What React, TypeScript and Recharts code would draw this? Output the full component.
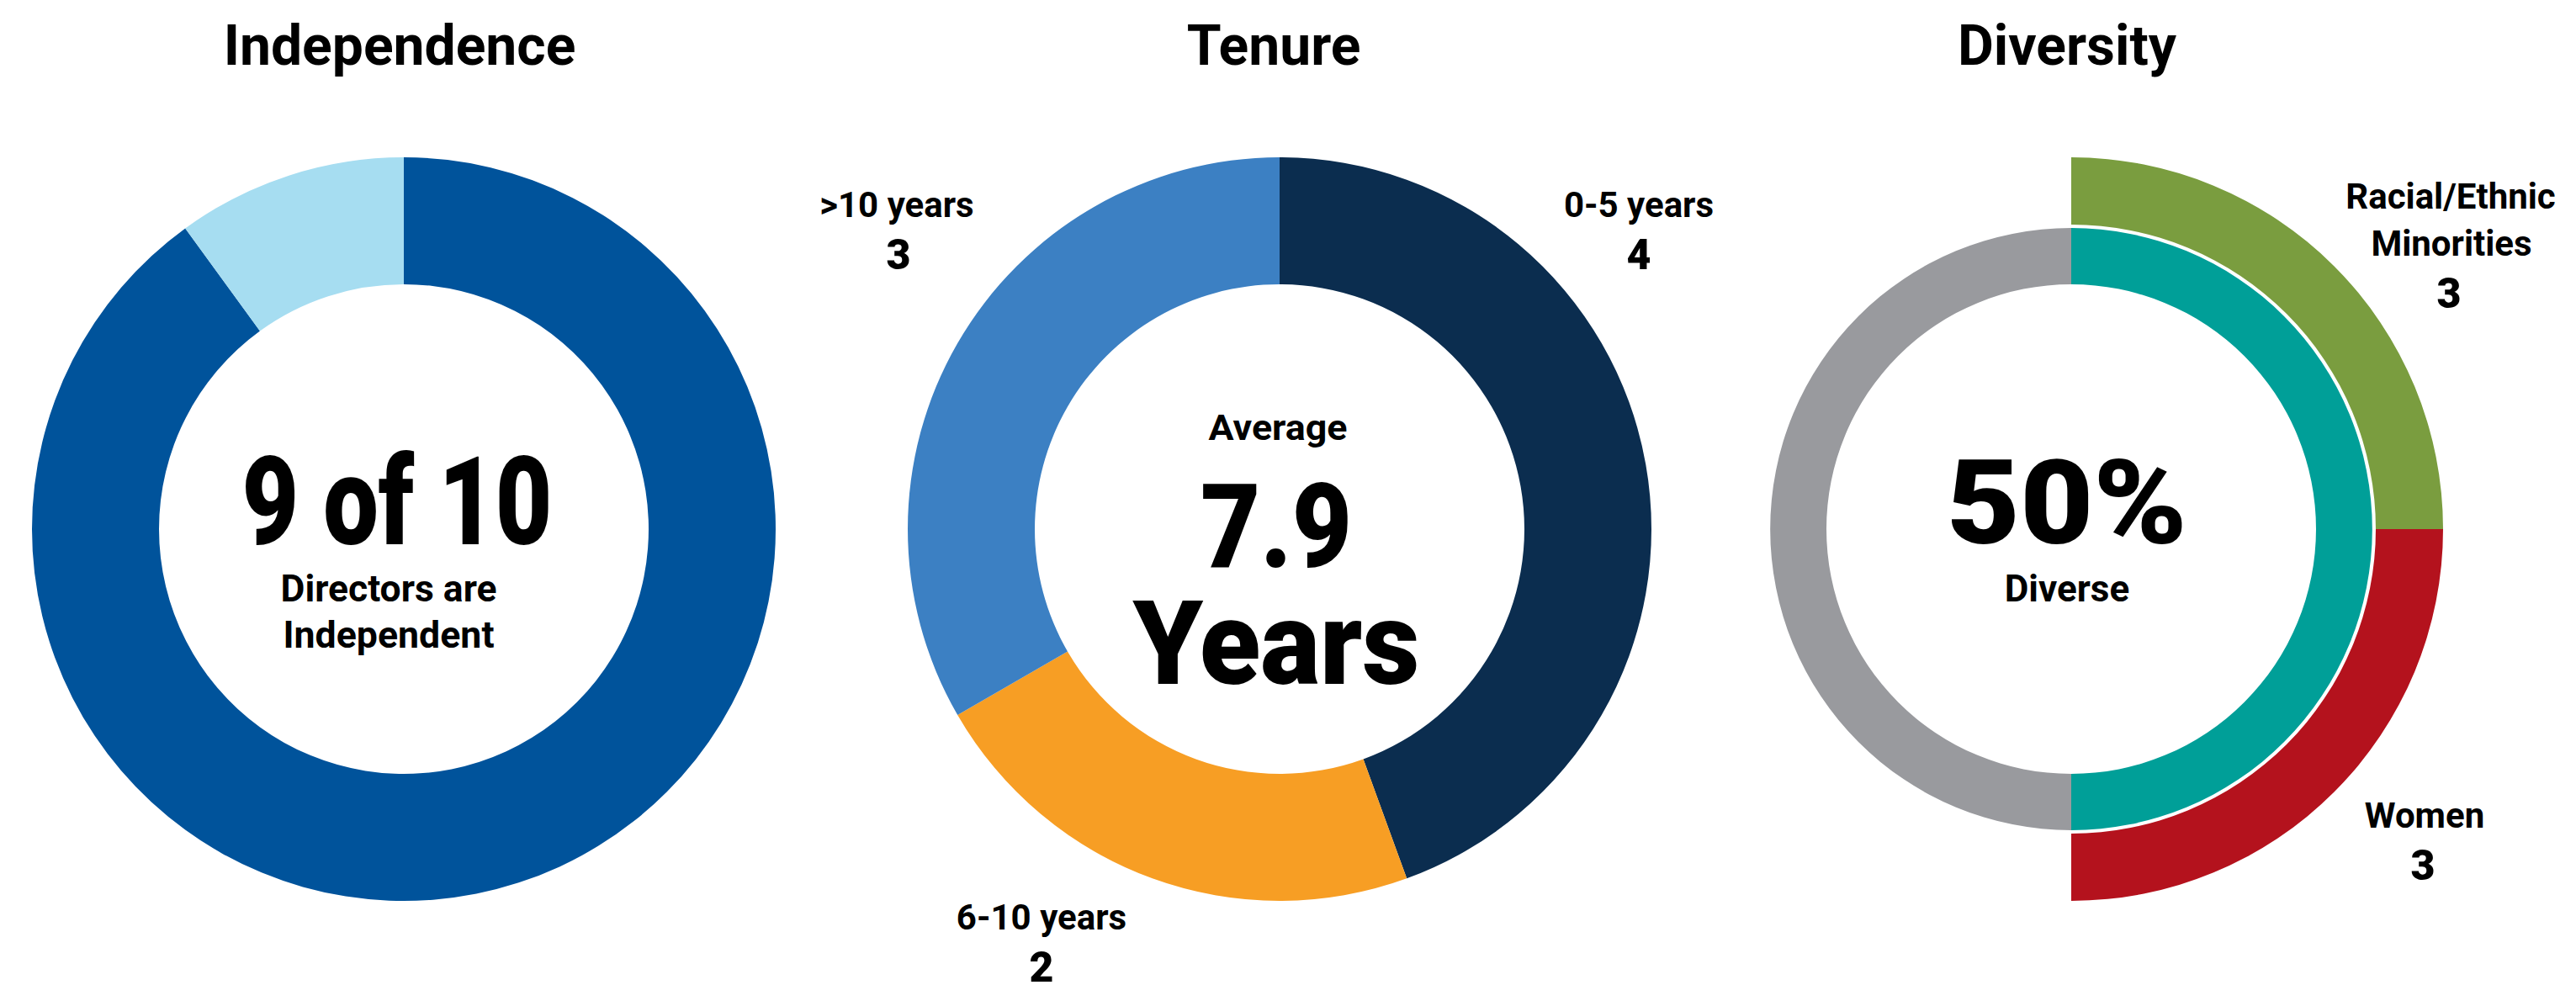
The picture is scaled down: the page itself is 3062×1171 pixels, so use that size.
import React from 'react';
import { PieChart, Pie, Cell } from 'recharts';

// board composition data
const independenceData = [
  { name: 'Independent', value: 9 },
  { name: 'Not independent', value: 1 },
];
const independenceColors = ['#00539B', '#A6DDF1'];

const tenureData = [
  { name: '0-5 years', value: 4 },
  { name: '6-10 years', value: 2 },
  { name: '>10 years', value: 3 },
];
const tenureColors = ['#0B2D4F', '#F79E24', '#3C80C3'];

const diversityInner = [
  { name: 'Diverse', value: 5 },
  { name: 'Not diverse', value: 5 },
];
const diversityInnerColors = ['#009F98', '#999A9E'];

const diversityOuter = [
  { name: 'Racial/Ethnic Minorities', value: 3 },
  { name: 'Women', value: 3 },
];
const diversityOuterColors = ['#7A9D3F', '#B4121D'];

const font = 'Roboto, "Noto Sans", sans-serif';

const T = ({ x, y, size, weight = 700, len, children }: any) => (
  <text
    x={x}
    y={y}
    textAnchor="middle"
    fontFamily={font}
    fontSize={size}
    fontWeight={weight}
    fill="#000"
    textLength={len}
    lengthAdjust={len ? 'spacingAndGlyphs' : undefined}
  >
    {children}
  </text>
);

const App = () => {
  return (
    <div style={{ position: 'absolute', left: 0, top: 0, background: '#fff' }}>
      <PieChart width={3062} height={1171}>
        <Pie
          data={independenceData}
          dataKey="value"
          cx={475}
          cy={624}
          innerRadius={291}
          outerRadius={442}
          startAngle={90}
          endAngle={-270}
          stroke="none"
          isAnimationActive={false}
        >
          {independenceData.map((d, i) => (
            <Cell key={d.name} fill={independenceColors[i]} />
          ))}
        </Pie>

        <Pie
          data={tenureData}
          dataKey="value"
          cx={1516}
          cy={624}
          innerRadius={291}
          outerRadius={442}
          startAngle={90}
          endAngle={-270}
          stroke="none"
          isAnimationActive={false}
        >
          {tenureData.map((d, i) => (
            <Cell key={d.name} fill={tenureColors[i]} />
          ))}
        </Pie>

        <Pie
          data={diversityInner}
          dataKey="value"
          cx={2457}
          cy={624}
          innerRadius={291}
          outerRadius={358}
          startAngle={90}
          endAngle={-270}
          stroke="none"
          isAnimationActive={false}
        >
          {diversityInner.map((d, i) => (
            <Cell key={d.name} fill={diversityInnerColors[i]} />
          ))}
        </Pie>
        <Pie
          data={diversityOuter}
          dataKey="value"
          cx={2457}
          cy={624}
          innerRadius={362}
          outerRadius={442}
          startAngle={90}
          endAngle={-90}
          stroke="none"
          isAnimationActive={false}
        >
          {diversityOuter.map((d, i) => (
            <Cell key={d.name} fill={diversityOuterColors[i]} />
          ))}
        </Pie>

        {/* titles */}
        <T x={475} y={77} size={66}>Independence</T>
        <T x={1514} y={77} size={66}>Tenure</T>
        <T x={2457} y={77} size={66}>Diversity</T>

        {/* center text */}
        <T x={472} y={647} size={146} weight={900} len={369}>9 of 10</T>
        <T x={462} y={715} size={44} len={257}>Directors are</T>
        <T x={462} y={770} size={44} len={251}>Independent</T>

        <T x={1519} y={523} size={43} len={165}>Average</T>
        <T x={1517} y={674} size={140} weight={900} len={180}>7.9</T>
        <T x={1517} y={813} size={140} weight={900} len={341}>Years</T>

        <T x={2457} y={646} size={140} weight={900} len={286}>50%</T>
        <T x={2457} y={715} size={44}>Diverse</T>

        {/* segment labels */}
        <T x={1066} y={258} size={42}>&gt;10 years</T>
        <T x={1068} y={320} size={50} weight={900}>3</T>
        <T x={1948} y={258} size={42}>0-5 years</T>
        <T x={1948} y={320} size={50} weight={900}>4</T>
        <T x={1238} y={1105} size={42}>6-10 years</T>
        <T x={1238} y={1167} size={50} weight={900}>2</T>

        <T x={2913} y={248} size={42}>Racial/Ethnic</T>
        <T x={2914} y={304} size={42}>Minorities</T>
        <T x={2911} y={366} size={50} weight={900}>3</T>
        <T x={2882} y={984} size={42}>Women</T>
        <T x={2880} y={1046} size={50} weight={900}>3</T>
      </PieChart>
    </div>
  );
};

export default App;
